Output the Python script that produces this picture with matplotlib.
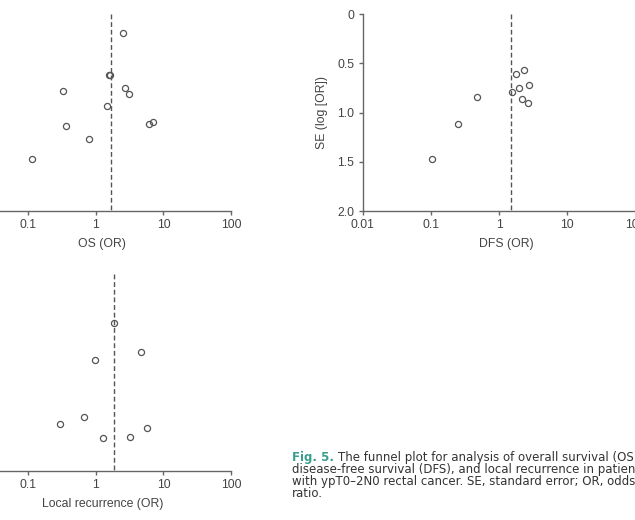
import numpy as np
import matplotlib
matplotlib.use("Agg")
import matplotlib.pyplot as plt

# funnel plot data: odds ratio and standard error of log OR
os_or = [2.50, 1.60, 1.64, 0.327, 2.70, 3.06, 1.45, 0.366, 6.16, 7.13, 0.797, 0.116]
os_se = [0.19, 0.62, 0.62, 0.78, 0.75, 0.81, 0.93, 1.14, 1.12, 1.10, 1.27, 1.47]
os_pooled = 1.66

dfs_or = [2.28, 1.75, 2.72, 1.99, 1.53, 0.476, 2.17, 2.61, 0.246, 0.104]
dfs_se = [0.573, 0.613, 0.724, 0.754, 0.79, 0.84, 0.866, 0.906, 1.118, 1.468]
dfs_pooled = 1.48

lr_or = [1.88, 4.64, 0.967, 0.673, 0.303, 5.82, 1.28, 3.24]
lr_se = [0.50, 0.789, 0.87, 1.455, 1.526, 1.567, 1.668, 1.655]
lr_pooled = 1.86

xticks = [0.01, 0.1, 1, 10, 100]
xticklabels = ["0.01", "0.1", "1", "10", "100"]
yticks = [0, 0.5, 1.0, 1.5, 2.0]
yticklabels = ["0", "0.5", "1.0", "1.5", "2.0"]

caption = [
    "The funnel plot for analysis of overall survival (OS),",
    "disease-free survival (DFS), and local recurrence in patients",
    "with ypT0\u20132N0 rectal cancer. SE, standard error; OR, odds",
    "ratio.",
]

plt.rcParams["font.family"] = ["Liberation Sans", "DejaVu Sans"]
grey = "#555555"

fig = plt.figure(figsize=(6.35, 5.2), dpi=100)


def funnel(rect, orv, se, pooled, xlabel, ylabel=None):
    ax = fig.add_axes(rect)
    ax.plot(orv, se, "o", ms=4.4, mfc="none", mec=grey, mew=0.9, clip_on=False)
    ax.plot([pooled, pooled], [0, 2], ls=(0, (3.5, 2)), color=grey, lw=1)
    ax.set_xscale("log")
    ax.set_xlim(0.01, 100)
    ax.set_ylim(2, 0)
    ax.set_xticks(xticks)
    ax.set_xticklabels(xticklabels)
    ax.minorticks_off()
    ax.set_yticks(yticks)
    ax.set_yticklabels(yticklabels)
    for s in ["top", "right"]:
        ax.spines[s].set_visible(False)
    for s in ["left", "bottom"]:
        ax.spines[s].set_color("#666666")
        ax.spines[s].set_linewidth(1)
    ax.tick_params(direction="out", length=3, width=1, color="#666666",
                   labelcolor="#444444", labelsize=8.8, pad=3)
    ax.set_xlabel(xlabel, fontsize=8.8, color="#444444")
    ax.xaxis.set_label_coords(0.525, -0.135)
    if ylabel:
        ax.set_ylabel(ylabel, fontsize=8.8, color="#444444", labelpad=7)
    return ax


funnel([-0.0633, 0.5942, 0.4276, 0.3788], os_or, os_se, os_pooled, "OS (OR)")
funnel([0.5712, 0.5942, 0.4296, 0.3788], dfs_or, dfs_se, dfs_pooled,
       "DFS (OR)", "SE (log [OR])")
funnel([-0.0633, 0.0942, 0.4276, 0.3788], lr_or, lr_se, lr_pooled,
       "Local recurrence (OR)")

# caption
x0 = 292 / 635
ys = [458, 470, 481.7, 493.4]
cap_font = ["DejaVu Sans"]
cap_size = 8.5
t = fig.text(x0, 1 - ys[0] / 520, "Fig. 5.", color="#3a9e8f", fontweight="bold",
             fontsize=cap_size, family=cap_font, va="center")
fig.canvas.draw()
bb = t.get_window_extent()
fig.text(bb.x1 / 635 + 4 / 635, 1 - ys[0] / 520, caption[0], color="#333333",
         fontsize=cap_size, family=cap_font, va="center")
for line, y in zip(caption[1:], ys[1:]):
    fig.text(x0, 1 - y / 520, line, color="#333333", fontsize=cap_size,
             family=cap_font, va="center")

fig.savefig("out.png", dpi=100)
